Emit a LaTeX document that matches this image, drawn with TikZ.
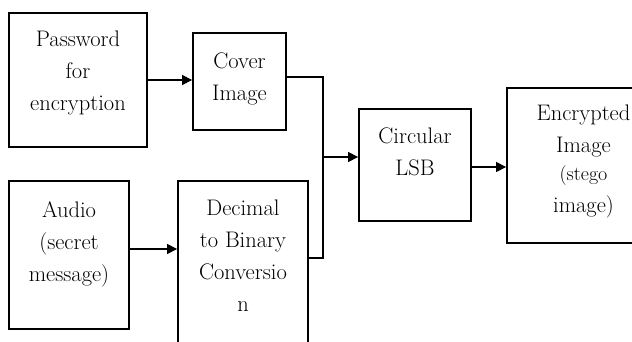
\documentclass[tikz,border=0pt]{standalone}
\usepackage{fontspec}
\usetikzlibrary{arrows.meta, positioning}

\begin{document}
\begin{tikzpicture}[x=1pt, y=-1pt,
    box/.style={draw, line width=1.8pt, inner sep=0pt},
    txt/.style={align=center, inner sep=0pt, font=\fontsize{22.5}{32}\selectfont},
    link/.style={line width=1.2pt},
    arr/.style={link, -{Triangle[length=10pt, width=10pt]}}]
  \useasboundingbox (0,0) rectangle (632,342);
  \fill[white] (0,0) rectangle (632,342);
  \clip (0,0) rectangle (632,342);

  % Boxes
  \node[box, minimum width=138pt, minimum height=134pt] (pw) at (78,80) {};
  \node[box, minimum width=93pt, minimum height=97pt] (cover) at (239.5,81.5) {};
  \node[box, minimum width=120pt, minimum height=148pt] (au) at (69,255) {};
  \node[box, minimum width=130pt, minimum height=199pt] (dec) at (243,280.5) {};
  \node[box, minimum width=112pt, minimum height=112pt] (circ) at (415,165) {};
  \node[box, minimum width=153pt, minimum height=155pt] (enc) at (583.5,165.5) {};

  % Texts
  \node[txt, below=19pt of pw.north] (pwt) {Password\\for\\encryption};
  \node[txt, below=20pt of cover.north] (covert) {Cover\\Image};
  \node[txt, below=21pt of au.north] (aut) {Audio\\(secret\\message)};
  \node[txt, below=20pt of dec.north] (dect) {Decimal\\to Binary\\Conversio\\n};
  \node[txt, below=19pt of circ.north] (circt) {Circular\\LSB};
  \node[txt, below=18pt of enc.north] (enct) {Encrypted\\Image\\[-4pt]\fontsize{20}{28}\selectfont (stego\\image)};

  % Connectors
  \coordinate (jn) at (323,157);
  \coordinate (jb) at (323,258);
  \draw[arr] (pw.east) -- (pw.east -| cover.west);
  \draw[arr] ([yshift=6pt]au.east) -- ([yshift=6pt]au.east -| dec.west);
  \draw[link] ([yshift=4.5pt]cover.east) -| (jb) -- (jb -| dec.east);
  \draw[arr] (jn) -- (jn -| circ.west);
  \draw[arr] ([yshift=-2pt]circ.east) -- ([yshift=-2pt]circ.east -| enc.west);
\end{tikzpicture}
\end{document}
